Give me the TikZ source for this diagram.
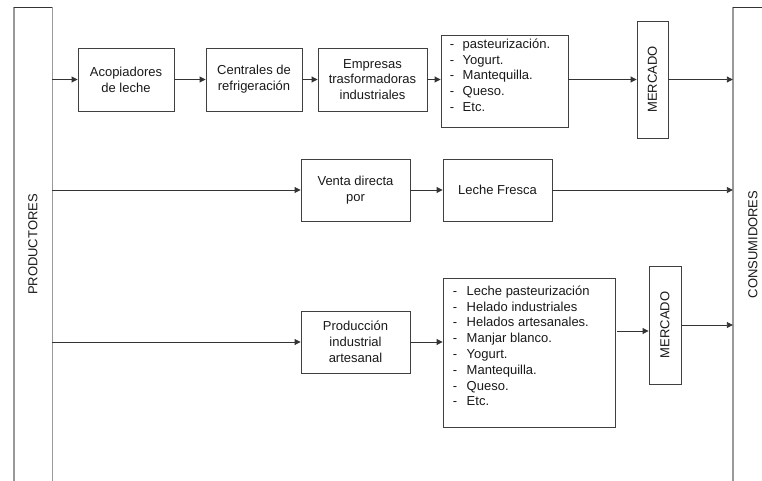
\documentclass[tikz,border=0pt]{standalone}
\usepackage{fontspec}
\usepackage{graphicx}
\setmainfont{Liberation Sans}
\usetikzlibrary{arrows.meta}
\begin{document}
\begin{tikzpicture}[x=1pt,y=-1pt,
  every node/.style={font=\fontsize{13}{15.8}\selectfont, text=black!90},
  box/.style={draw=black!75, line width=0.9pt, inner sep=0pt, align=center},
  arr/.style={draw=black!80, line width=0.9pt, -{Triangle[length=6pt,width=6pt]}},
  side/.style={draw=black!40, line width=1.4pt},
  rim/.style={draw=black!80, line width=1pt},
  listtxt/.style={anchor=north west, inner sep=0pt, align=left},
  outer/.style={draw=none, inner sep=0pt, minimum width=38pt, minimum height=474pt},
]
\useasboundingbox (0,0) rectangle (762,481);
\clip (0,0) rectangle (762,481);

% side columns: producers and consumers
\node[outer] (prod) at (33,244.5) {\rotatebox{90}{PRODUCTORES}};
\node[outer, minimum width=40pt] (cons) at (753,244.5) {\rotatebox{90}{CONSUMIDORES}};
\draw[side] (prod.south west) -- (prod.north west);
\draw[side] (prod.north east) -- (prod.south east);
\draw[rim]  (prod.north west) -- (prod.north east);
\draw[side] (cons.south west) -- (cons.north west);
\draw[rim]  (cons.north west) -- (cons.north east);

% first chain: industrial processing
\node[box, minimum width=96pt,  minimum height=63pt] (acop) at (126,79.5) {Acopiadores\\de leche};
\node[box, minimum width=96pt,  minimum height=63pt] (cent) at (254,79.5) {Centrales de\\refrigeración};
\node[box, minimum width=109pt, minimum height=63pt] (empr) at (372.5,79.5) {Empresas\\trasformadoras\\industriales};
\node[box, minimum width=127pt, minimum height=92pt] (lst1) at (504.5,81) {};
\node[listtxt] (lst1txt) at ([xshift=9pt,yshift=-4pt]lst1.north west)
  {\makebox[13pt][l]{-}pasteurización.\\
   \makebox[13pt][l]{-}Yogurt.\\
   \makebox[13pt][l]{-}Mantequilla.\\
   \makebox[13pt][l]{-}Queso.\\
   \makebox[13pt][l]{-}Etc.};
\node[box, minimum width=31pt, minimum height=117pt] (merc1) at (652.5,79.5) {\rotatebox{90}{MERCADO}};

\draw[arr] (acop.west -| prod.east) -- (acop.west);
\draw[arr] (acop.east) -- (cent.west);
\draw[arr] (cent.east) -- (empr.west);
\draw[arr] (empr.east) -- (empr.east -| lst1.west);
\draw[arr] (merc1.west -| lst1.east) -- (merc1.west);
\draw[arr] (merc1.east) -- (merc1.east -| cons.west);

% second chain: direct sale
\node[box, minimum width=109pt, minimum height=62pt] (venta) at (355.5,190) {Venta directa\\por};
\node[box, minimum width=109pt, minimum height=62pt] (leche) at (497.5,190) {Leche Fresca};

\draw[arr] (venta.west -| prod.east) -- (venta.west);
\draw[arr] (venta.east) -- (leche.west);
\draw[arr] (leche.east) -- (leche.east -| cons.west);

% third chain: artisanal production
\node[box, minimum width=109pt, minimum height=62pt] (prodn) at (355.5,342) {Producción\\industrial\\artesanal};
\node[box, minimum width=172pt, minimum height=149pt] (lst2) at (529,352.5) {};
\node[listtxt] (lst2txt) at ([xshift=10pt,yshift=-8pt]lst2.north west)
  {\makebox[14pt][l]{-}Leche pasteurización\\
   \makebox[14pt][l]{-}Helado industriales\\
   \makebox[14pt][l]{-}Helados artesanales.\\
   \makebox[14pt][l]{-}Manjar blanco.\\
   \makebox[14pt][l]{-}Yogurt.\\
   \makebox[14pt][l]{-}Mantequilla.\\
   \makebox[14pt][l]{-}Queso.\\
   \makebox[14pt][l]{-}Etc.};
\node[box, minimum width=32pt, minimum height=118pt] (merc2) at (665,325) {\rotatebox{90}{MERCADO}};
\coordinate (l2out) at (617,331);

\draw[arr] (prodn.west -| prod.east) -- (prodn.west);
\draw[arr] (prodn.east) -- (prodn.east -| lst2.west);
\draw[arr] (l2out) -- (l2out -| merc2.west);
\draw[arr] (merc2.east) -- (merc2.east -| cons.west);
\end{tikzpicture}
\end{document}
